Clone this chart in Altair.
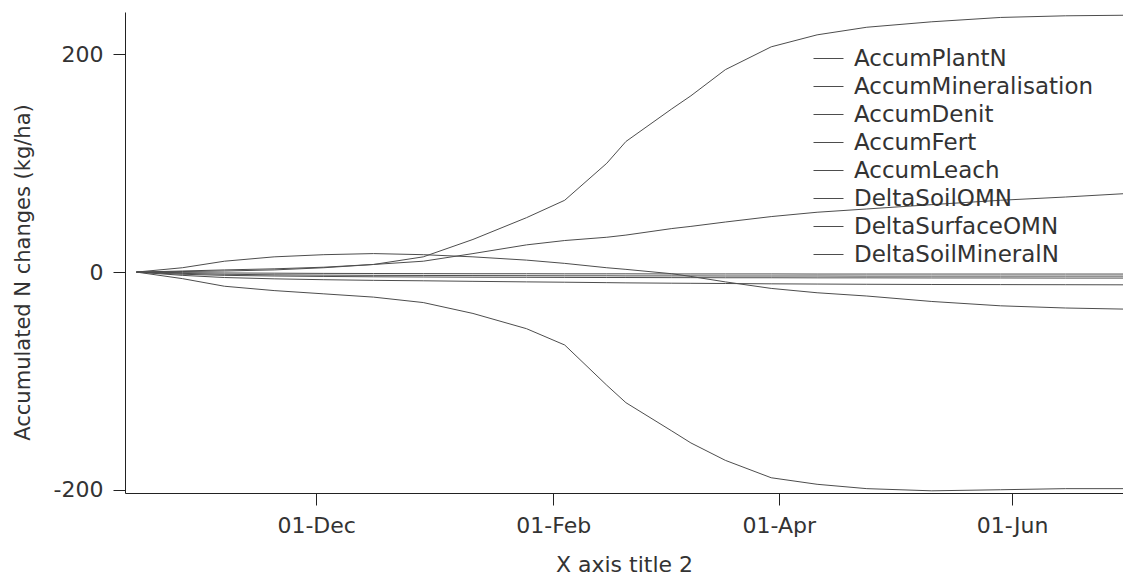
import altair as alt
import pandas as pd

dates = [
    "2021-10-15", "2021-10-27", "2021-11-07", "2021-11-20", "2021-12-03",
    "2021-12-16", "2021-12-29", "2022-01-11", "2022-01-25", "2022-02-04",
    "2022-02-15", "2022-02-20", "2022-03-04", "2022-03-09", "2022-03-18",
    "2022-03-30", "2022-04-11", "2022-04-24", "2022-05-11", "2022-05-29",
    "2022-06-15", "2022-06-30",
]

series_names = [
    "AccumPlantN", "AccumMineralisation", "AccumDenit", "AccumFert",
    "AccumLeach", "DeltaSoilOMN", "DeltaSurfaceOMN", "DeltaSoilMineralN",
]

accum_plant_n = [0, 0.5, 1, 2, 4, 7, 14, 30, 50, 66, 100, 120, 150, 162, 186,
                 207, 218, 225, 230, 234, 235.5, 236]
accum_mineralisation = [0, 1, 2, 3, 4.5, 7, 10, 17, 25, 29, 32, 34, 40, 42, 46,
                        51, 55, 58, 62, 66, 69, 72]
accum_denit = [0, -1.2, -2, -2.5, -2.8, -3, -3.1, -3.2, -3.3, -3.4, -3.4, -3.5,
               -3.5, -3.5, -3.6, -3.6, -3.6, -3.7, -3.7, -3.7, -3.7, -3.7]
accum_fert = [0, -0.5, -0.8, -1, -1.2, -1.3, -1.4, -1.5, -1.5, -1.6, -1.6, -1.6,
              -1.7, -1.7, -1.7, -1.7, -1.8, -1.8, -1.8, -1.8, -1.8, -1.8]
accum_leach = [0, -3, -5, -6.2, -7, -7.6, -8, -8.5, -9, -9.3, -9.7, -9.9, -10.2,
               -10.3, -10.5, -10.8, -11, -11.2, -11.4, -11.5, -11.6, -11.7]
delta_soil_omn = [0, 4, 10, 14, 16, 17, 16, 14, 11, 8, 4, 2.5, -1.5, -4, -9,
                  -15, -19, -22, -27, -31, -33, -34]
delta_surface_omn = [0, -2, -3, -3.6, -4, -4.3, -4.5, -4.7, -4.8, -4.9, -5, -5,
                     -5.1, -5.1, -5.2, -5.2, -5.3, -5.3, -5.4, -5.4, -5.5, -5.5]
delta_soil_mineral_n = [0, -6, -13, -17, -20, -23, -28, -38, -52, -67, -104,
                        -120, -146, -157, -173, -189, -195, -199, -201, -200,
                        -199, -199]

x_tick_labels = ["01-Dec", "01-Feb", "01-Apr", "01-Jun"]
y_tick_values = [-200, 0, 200]

all_series = [accum_plant_n, accum_mineralisation, accum_denit, accum_fert,
              accum_leach, delta_soil_omn, delta_surface_omn,
              delta_soil_mineral_n]

rows = []
for name, vals in zip(series_names, all_series):
    for d, v in zip(dates, vals):
        rows.append({"date": d + "T00:00:00", "series": name, "value": v})
df = pd.DataFrame(rows)

tick_dates = [
    alt.DateTime(year=2021, month=12, date=1),
    alt.DateTime(year=2022, month=2, date=1),
    alt.DateTime(year=2022, month=4, date=1),
    alt.DateTime(year=2022, month=6, date=1),
]

FONT = "DejaVu Sans"
LINE = "#4d4d4d"

chart = alt.Chart(df).mark_line(strokeWidth=1, clip=True).encode(
    x=alt.X(
        "date:T",
        title="X axis title 2",
        scale=alt.Scale(domain=[alt.DateTime(year=2021, month=10, date=12),
                                alt.DateTime(year=2022, month=6, date=30)]),
        axis=alt.Axis(values=tick_dates, format="%d-%b", grid=False,
                      tickSize=12, labelPadding=10, labelFontSize=22,
                      titleFontSize=22, titlePadding=18, labelFont=FONT,
                      titleFont=FONT, titleFontWeight="normal",
                      labelColor="#333", titleColor="#333",
                      domainColor="#222", tickColor="#222"),
    ),
    y=alt.Y(
        "value:Q",
        title="Accumulated N changes (kg/ha)",
        scale=alt.Scale(domain=[-203, 239], nice=False, zero=False),
        axis=alt.Axis(values=y_tick_values, grid=False, tickSize=12,
                      labelPadding=10, labelFontSize=22, titleFontSize=21,
                      labelExpr="'' + datum.value",
                      titleX=-92, titleY=260, titleAngle=-90,
                      titleAlign="center", titleBaseline="bottom",
                      labelFont=FONT, titleFont=FONT,
                      titleFontWeight="normal", labelColor="#333",
                      titleColor="#333", domainColor="#222",
                      tickColor="#222"),
    ),
    color=alt.Color(
        "series:N",
        sort=series_names,
        scale=alt.Scale(domain=series_names, range=[LINE] * 8),
        legend=alt.Legend(orient="none", legendX=688, legendY=31, title=None,
                          symbolType="stroke", symbolSize=900,
                          symbolStrokeWidth=1, labelFontSize=23,
                          labelFont=FONT, labelColor="#333", rowPadding=0,
                          labelOffset=10, padding=0, labelLimit=0),
    ),
).properties(
    width=998,
    height=481,
    autosize=alt.AutoSizeParams(type="none"),
    padding={"left": 117, "top": 4, "right": 0, "bottom": 86},
).configure_view(stroke=None)

chart.save("out.html", embed_options={"renderer": "svg", "actions": False})
